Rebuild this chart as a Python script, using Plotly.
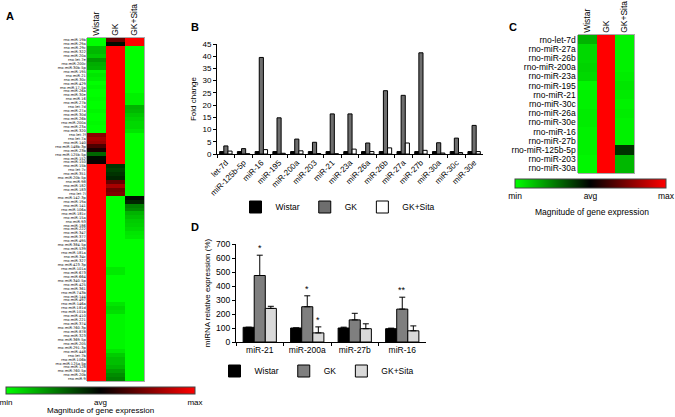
import plotly.graph_objects as go

W, H = 675, 417
def fx(p):
    return p / W
def fy(p):
    return 1 - p / H

groups = ["Wistar", "GK", "GK+Sita"]

# ---------------- Panel A data ----------------
a_labels = [
    "rno-miR-19b", "rno-miR-29a", "rno-miR-29c", "rno-miR-322", "rno-miR-20a",
    "rno-let-7e", "rno-miR-200c", "rno-miR-30b-5p", "rno-miR-195", "rno-miR-21",
    "rno-miR-30c", "rno-miR-429", "rno-miR-17-5p", "rno-miR-26a", "rno-miR-30e",
    "rno-miR-16", "rno-miR-27b", "rno-let-7d", "rno-miR-27a", "rno-miR-30d",
    "rno-miR-26b", "rno-miR-200a", "rno-miR-23a", "rno-miR-320", "rno-let-7f",
    "rno-let-7a", "rno-miR-140", "rno-miR-148b-3p", "rno-miR-23b", "rno-miR-125b-5p",
    "rno-miR-152", "rno-miR-150", "rno-miR-15b", "rno-let-7c", "rno-miR-351",
    "rno-miR-20b-5p", "rno-miR-98", "rno-miR-182", "rno-miR-183", "rno-let-7i",
    "rno-miR-142-3p", "rno-miR-19a", "rno-miR-141", "rno-miR-106a", "rno-miR-181c",
    "rno-miR-15a", "rno-miR-93", "rno-miR-186", "rno-miR-222", "rno-miR-347",
    "rno-miR-377", "rno-miR-495", "rno-miR-384-5p", "rno-miR-539", "rno-miR-181a",
    "rno-miR-34c", "rno-miR-327", "rno-miR-423-3p", "rno-miR-101a", "rno-miR-673",
    "rno-miR-664", "rno-miR-340-5p", "rno-miR-425", "rno-miR-361", "rno-miR-743b",
    "rno-miR-144", "rno-miR-497", "rno-miR-146a", "rno-miR-181d", "rno-miR-101b",
    "rno-miR-410", "rno-miR-221", "rno-miR-374", "rno-miR-760-3p", "rno-miR-878",
    "rno-miR-323", "rno-miR-369-5p", "rno-miR-205", "rno-miR-291-3p", "rno-miR-448",
    "rno-let-7b", "rno-miR-106b", "rno-miR-125a-5p", "rno-miR-128", "rno-miR-760-5p",
    "rno-miR-20b", "rno-miR-9",
]
a_wistar = [
    -1, -1, -0.75, -0.72, -0.78, -0.6, -0.68, -0.7, -0.95, -0.9, -0.93,
    -1, -0.97, -1, -1, -0.98, -1, -1, -0.97, -1, -1, -0.98, -1, -1,
    0.55, 0.65, 0.6, 0.3, 0.1, -0.4, -0.05, 0.05,
    1, 1, 1, 1, 1, 1, 1, 1, 1, 1, 1, 1, 1, 1, 1, 1, 1, 1, 1, 1, 1, 1, 1, 1, 1, 1, 1,
    1, 1, 1, 1, 1, 1, 1, 1, 1, 1, 1, 1, 1, 1, 1, 1, 1, 1, 1, 1, 1, 1, 1, 1, 1, 1, 1, 1,
]
a_gk = [
    0.4, -0.05,
    1, 1, 1, 1, 1, 1, 1, 1, 1, 1, 1, 1, 1, 1, 1, 1, 1, 1, 1, 1, 1, 1, 1, 1, 1, 1, 1, 1, 1, 1,
    -0.2, -0.25, -0.2, -0.15, 0.4, 0.65, 0.45, 0.5,
    -1, -1, -1, -1, -1, -1, -1, -1, -1, -1, -1, -1, -1, -1, -1, -1, -1, -1,
    -0.92, -0.92,
    -1, -1, -1, -1, -1, -1, -1,
    -0.9, -0.85, -0.88,
    -0.97, -0.97, -0.97, -0.97, -0.97, -0.97, -0.97, -0.97, -0.97,
    -0.9, -0.8, -0.75, -0.75, -0.7, -0.62, -0.55, -0.5,
]
a_sita = [
    1, 1,
    -1, -1, -1, -1, -1, -1, -1, -1, -1, -1, -1, -1,
    -0.95, -0.95, -0.95,
    -0.7, -0.72, -0.78, -0.82, -0.85, -0.85, -0.9,
    -1, -1, -1, -1, -1, -1, -1, -1, -1, -1, -1, -1, -1, -1, -1, -1,
    -0.05, -0.15, -0.5, -0.55, -0.7, -0.75, -0.8, -0.82, -0.85, -0.9, -0.92,
    -1, -1, -1, -1, -1, -1, -1, -1, -1, -1, -1, -1, -1, -1, -1, -1, -1, -1,
    -1, -1, -1, -1, -1, -1, -1, -1, -1, -1, -1, -1, -1, -1, -1, -1, -1, -1,
]
assert len(a_labels) == len(a_wistar) == len(a_gk) == len(a_sita)

# ---------------- Panel B data ----------------
b_cats = ["let-7d", "miR-125b-5p", "miR-16", "miR-195", "miR-200a", "miR-203",
          "miR-21", "miR-23a", "miR-26a", "miR-26b", "miR-27a", "miR-27b",
          "miR-30a", "miR-30c", "miR-30e"]
b_wistar = [1, 1, 1, 1, 1, 1, 1, 1, 1, 1, 1, 1, 1, 1, 1]
b_gk = [3.3, 2.2, 39.5, 14.8, 6.1, 4.8, 16.4, 16.4, 4.5, 25.9, 24.0, 41.4, 4.6, 6.5, 11.7]
b_sita = [1.2, 0.1, 1.8, 0.3, 1.3, 0.2, 0.1, 2.0, 1.0, 2.5, 4.5, 1.5, 0.4, 0.6, 1.0]

# ---------------- Panel C data ----------------
c_labels = ["rno-let-7d", "rno-miR-27a", "rno-miR-26b", "rno-miR-200a", "rno-miR-23a",
            "rno-miR-195", "rno-miR-21", "rno-miR-30c", "rno-miR-26a", "rno-miR-30e",
            "rno-miR-16", "rno-miR-27b", "rno-miR-125b-5p", "rno-miR-203", "rno-miR-30a"]
c_wistar = [-0.7, -0.85, -0.85, -0.83, -0.85, -0.97, -0.95, -0.95, -0.93, -0.93,
            -0.95, -0.95, -0.95, -0.97, -0.97]
c_gk = [1, 1, 1, 1, 1, 1, 1, 1, 1, 1, 1, 1, 1, 1, 1]
c_sita = [-0.95, -0.95, -0.95, -0.95, -0.93, -0.9, -0.92, -0.95, -0.93, -0.95,
          -0.95, -0.95, -0.2, -0.72, -0.72]

# ---------------- Panel D data ----------------
d_cats = ["miR-21", "miR-200a", "miR-27b", "miR-16"]
d_wistar = [105, 100, 100, 95]
d_wistar_err = [0, 0, 6, 4]
d_gk = [475, 252, 158, 235]
d_gk_err = [145, 78, 47, 85]
d_sita = [240, 65, 95, 80]
d_sita_err = [15, 43, 35, 35]
d_zero = [0, 0, 0, 0]
d_star_gk = ["*", "*", "", "**"]
d_star_sita = ["", "*", "", ""]

scale = [[0, "#00ff00"], [0.5, "#000000"], [1, "#ff0000"]]
FONT = "Liberation Sans"

fig = go.Figure()

# Panel A heatmap
fig.add_trace(go.Heatmap(
    z=[[w, g, s] for w, g, s in zip(a_wistar, a_gk, a_sita)],
    x=groups, y=a_labels, xaxis="x", yaxis="y",
    colorscale=scale, zmin=-1, zmax=1, hoverinfo="skip",
    colorbar=dict(orientation="h", x=fx(100.5), xanchor="center", y=fy(387), yanchor="top",
                  len=189, lenmode="pixels", thickness=7, xpad=0, ypad=0,
                  tickvals=[-1, 0, 1], ticktext=["min", "avg", "max"], ticks="",
                  ticklabeloverflow="allow",
                  tickfont=dict(size=8, color="black"), outlinewidth=1, outlinecolor="#444"),
))

# Panel C heatmap
fig.add_trace(go.Heatmap(
    z=[[w, g, s] for w, g, s in zip(c_wistar, c_gk, c_sita)],
    x=groups, y=c_labels, xaxis="x3", yaxis="y3",
    colorscale=scale, zmin=-1, zmax=1, hoverinfo="skip",
    colorbar=dict(orientation="h", x=fx(590.5), xanchor="center", y=fy(179), yanchor="top",
                  len=151, lenmode="pixels", thickness=9, xpad=0, ypad=0,
                  tickvals=[-1, 0, 1], ticktext=["min", "avg", "max"], ticks="",
                  ticklabeloverflow="allow",
                  tickfont=dict(size=8.5, color="black"), outlinewidth=1, outlinecolor="#444"),
))

# Panel B bars
line_k = dict(color="black", width=1)
fig.add_trace(go.Bar(x=b_cats, y=b_wistar, name="Wistar", xaxis="x2", yaxis="y2",
                     marker=dict(color="black", line=line_k), legend="legend"))
fig.add_trace(go.Bar(x=b_cats, y=b_gk, name="GK", xaxis="x2", yaxis="y2",
                     marker=dict(color="#6e6e6e", line=line_k), legend="legend"))
fig.add_trace(go.Bar(x=b_cats, y=b_sita, name="GK+Sita", xaxis="x2", yaxis="y2",
                     marker=dict(color="white", line=line_k), legend="legend"))

# Panel D bars
def eb(arr):
    return dict(type="data", array=arr, arrayminus=d_zero, symmetric=False,
                color="black", thickness=1, width=3)
fig.add_trace(go.Bar(x=d_cats, y=d_wistar, name="Wistar", xaxis="x4", yaxis="y4",
                     error_y=eb(d_wistar_err),
                     marker=dict(color="black", line=line_k), legend="legend2"))
fig.add_trace(go.Bar(x=d_cats, y=d_gk, name="GK", xaxis="x4", yaxis="y4",
                     error_y=eb(d_gk_err),
                     marker=dict(color="#7f7f7f", line=line_k), legend="legend2"))
fig.add_trace(go.Bar(x=d_cats, y=d_sita, name="GK+Sita", xaxis="x4", yaxis="y4",
                     error_y=eb(d_sita_err),
                     marker=dict(color="#d9d9d9", line=line_k), legend="legend2"))

annotations = []
for txt, x, y in [("A", 10, 16), ("B", 195, 27), ("C", 513, 27), ("D", 195, 227)]:
    annotations.append(dict(text="<b>%s</b>" % txt, x=fx(x), y=fy(y), xref="paper", yref="paper",
                            showarrow=False, font=dict(size=11, color="black"),
                            xanchor="center", yanchor="middle"))
annotations.append(dict(text="Magnitude of gene expression", x=fx(100), y=fy(410),
                        xref="paper", yref="paper", showarrow=False,
                        font=dict(size=8, color="black"), xanchor="center", yanchor="middle"))
annotations.append(dict(text="Magnitude of gene expression", x=fx(592), y=fy(212),
                        xref="paper", yref="paper", showarrow=False,
                        font=dict(size=8.5, color="black"), xanchor="center", yanchor="middle"))
for i, c in enumerate(d_cats):
    if d_star_gk[i]:
        annotations.append(dict(text=d_star_gk[i], x=c, y=d_gk[i] + d_gk_err[i], xref="x4", yref="y4",
                                showarrow=False, yanchor="bottom", font=dict(size=9, color="black")))
    if d_star_sita[i]:
        annotations.append(dict(text=d_star_sita[i], x=c, y=d_sita[i] + d_sita_err[i], xref="x4", yref="y4",
                                xshift=11, showarrow=False, yanchor="bottom",
                                font=dict(size=9, color="black")))

axis_common = dict(showgrid=False, zeroline=False, color="black")

fig.update_layout(
    width=W, height=H, margin=dict(l=0, r=0, t=0, b=0, autoexpand=False),
    paper_bgcolor="white", plot_bgcolor="white",
    font=dict(family=FONT, color="black", size=9),
    barmode="group", bargap=0.3, bargroupgap=0,
    showlegend=True,
    # Panel A
    xaxis=dict(domain=[fx(87), fx(144)], anchor="y", side="top", tickangle=-90,
               tickfont=dict(size=8.5), ticks="", showline=True, mirror=True,
               linecolor="#555", linewidth=0.5, **axis_common),
    yaxis=dict(domain=[fy(381), fy(38)], anchor="x", autorange="reversed",
               tickmode="array", tickvals=a_labels, ticktext=a_labels,
               tickfont=dict(size=3.6, family="DejaVu Sans"), ticks="",
               showline=True, mirror=True, linecolor="#555", linewidth=0.5, **axis_common),
    # Panel B
    xaxis2=dict(domain=[fx(217), fx(483)], anchor="y2", showline=True, linecolor="black",
                ticks="outside", tickson="boundaries", ticklen=3, tickangle=-45,
                tickfont=dict(size=8), **axis_common),
    yaxis2=dict(domain=[fy(154), fy(44)], anchor="x2", range=[0, 45], dtick=5,
                showline=True, linecolor="black", ticks="outside", ticklen=3,
                tickfont=dict(size=8), title=dict(text="Fold change", font=dict(size=8), standoff=4),
                **axis_common),
    # Panel C
    xaxis3=dict(domain=[fx(578), fx(634)], anchor="y3", side="top", tickangle=-90,
                tickfont=dict(size=8.5), ticks="", showline=True, mirror=True,
                linecolor="#555", linewidth=0.5, **axis_common),
    yaxis3=dict(domain=[fy(173), fy(35)], anchor="x3", autorange="reversed",
                tickmode="array", tickvals=c_labels, ticktext=c_labels,
                tickfont=dict(size=8.5), ticks="", showline=True, mirror=True,
                linecolor="#555", linewidth=0.5, **axis_common),
    # Panel D
    xaxis4=dict(domain=[fx(236), fx(426)], anchor="y4", showline=True, linecolor="black",
                ticks="outside", tickson="boundaries", ticklen=3,
                tickfont=dict(size=8.5), **axis_common),
    yaxis4=dict(domain=[fy(342), fy(244)], anchor="x4", range=[0, 700], dtick=100,
                showline=True, linecolor="black", ticks="outside", ticklen=3,
                tickfont=dict(size=8.5),
                title=dict(text="miRNA relative expression (%)", font=dict(size=8), standoff=4),
                **axis_common),
    legend=dict(orientation="h", x=fx(338), xanchor="center", y=fy(207), yanchor="middle",
                font=dict(size=8.5), itemwidth=30, bgcolor="rgba(0,0,0,0)"),
    legend2=dict(orientation="h", x=fx(317), xanchor="center", y=fy(371), yanchor="middle",
                 font=dict(size=8.5), itemwidth=30, bgcolor="rgba(0,0,0,0)"),
    annotations=annotations,
)

fig.write_html("out.html", config={"displayModeBar": False, "staticPlot": True},
               post_script="document.body.style.margin='0px';document.body.style.overflow='hidden';")
